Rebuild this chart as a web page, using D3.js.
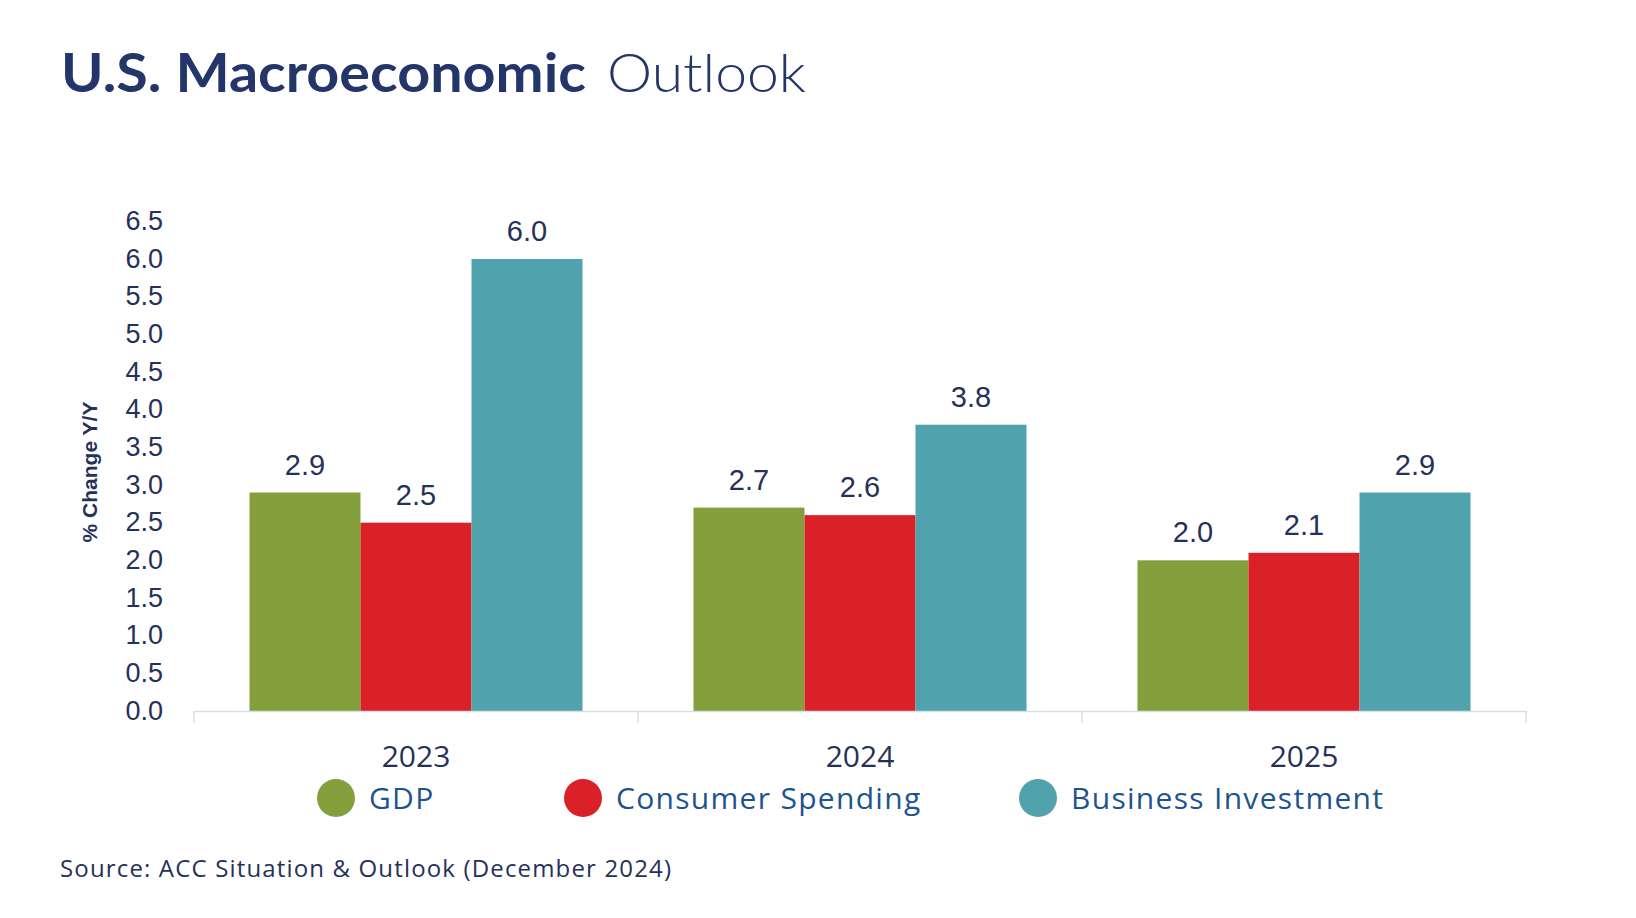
<!DOCTYPE html>
<html>
<head>
<meta charset="utf-8">
<script src="https://cdn.jsdelivr.net/npm/d3@7"></script>
<style>
  html, body { margin: 0; padding: 0; background: #ffffff; }
  svg { display: block; }
</style>
</head>
<body>
<svg id="chart" width="1636" height="918"></svg>
<script>
// ---- Data ----
const categories = ["2023", "2024", "2025"];
const seriesNames = ["GDP", "Consumer Spending", "Business Investment"];
const gdp = [2.9, 2.7, 2.0];
const consumerSpending = [2.5, 2.6, 2.1];
const businessInvestment = [6.0, 3.8, 2.9];
const yTicks = [0, 0.5, 1.0, 1.5, 2.0, 2.5, 3.0, 3.5, 4.0, 4.5, 5.0, 5.5, 6.0, 6.5];
const seriesColors = ["#84a03d", "#db2128", "#50a2ac"];

const seriesValues = [gdp, consumerSpending, businessInvestment];
const table = categories.map((c, i) => ({
  category: c,
  values: seriesNames.map((s, j) => ({ series: s, value: seriesValues[j][i], color: seriesColors[j] }))
}));

const svg = d3.select("#chart");
const navy = "#263159";
const legendBlue = "#1d548f";

// ---- Title ----
svg.append("text").attr("x", 61).attr("y", 92)
  .attr("fill", "#233569")
  .attr("font-family", "Lato, 'Open Sans', sans-serif").attr("font-weight", 700).attr("font-size", 54)
  .attr("textLength", 525).attr("lengthAdjust", "spacingAndGlyphs")
  .text("U.S. Macroeconomic");
svg.append("text").attr("x", 607).attr("y", 92)
  .attr("fill", "#233569")
  .attr("font-family", "Lato, 'Open Sans', sans-serif").attr("font-weight", 300).attr("font-size", 54)
  .attr("textLength", 199).attr("lengthAdjust", "spacingAndGlyphs")
  .text("Outlook");

// ---- Scales ----
const margin = { left: 194, right: 1526, top: 221.3, bottom: 711 };
const x0 = d3.scaleBand().domain(categories).range([margin.left, margin.right]).padding(0);
const x1 = d3.scaleBand().domain(seriesNames)
  .range([x0.bandwidth() * 0.125, x0.bandwidth() * 0.875]).padding(0);
const y = d3.scaleLinear().domain([0, 6.5]).range([margin.bottom, margin.top]);

// ---- Y axis (labels only) ----
const yAxis = d3.axisLeft(y).tickValues(yTicks).tickFormat(d3.format(".1f")).tickSize(0).tickPadding(0);
const yg = svg.append("g").attr("transform", `translate(163,0)`).call(yAxis);
yg.select(".domain").remove();
yg.selectAll("text")
  .attr("font-family", "'Liberation Sans', Arial, sans-serif")
  .attr("font-size", 27).attr("fill", navy).attr("dy", "0.3em");

// Y axis title
svg.append("text")
  .attr("transform", `translate(97,472) rotate(-90)`)
  .attr("text-anchor", "middle")
  .attr("font-family", "'Liberation Sans', Arial, sans-serif")
  .attr("font-weight", 700).attr("font-size", 21)
  .attr("fill", navy)
  .text("% Change Y/Y");

// ---- Bars ----
const groups = svg.append("g").selectAll("g").data(table).join("g")
  .attr("transform", d => `translate(${x0(d.category)},0)`);

groups.selectAll("rect").data(d => d.values).join("rect")
  .attr("x", d => x1(d.series))
  .attr("width", x1.bandwidth())
  .attr("y", d => y(d.value))
  .attr("height", d => y(0) - y(d.value))
  .attr("fill", d => d.color);

groups.selectAll("text.lbl").data(d => d.values).join("text")
  .attr("class", "lbl")
  .attr("x", d => x1(d.series) + x1.bandwidth() / 2)
  .attr("y", d => y(d.value) - 18)
  .attr("text-anchor", "middle")
  .attr("font-family", "'Liberation Sans', Arial, sans-serif")
  .attr("font-size", 29).attr("fill", navy)
  .text(d => d3.format(".1f")(d.value));

// ---- X axis ----
const xAxis = d3.axisBottom(x0).tickSize(0).tickPadding(0);
const xg = svg.append("g").attr("transform", `translate(0,${margin.bottom})`).call(xAxis);
xg.select(".domain").attr("stroke", "#d6e0e8").attr("stroke-width", 1.5);
xg.selectAll(".tick text")
  .attr("font-family", "'Open Sans', 'Noto Sans', sans-serif")
  .attr("font-size", 30).attr("fill", navy)
  .attr("y", 56).attr("dy", 0);
// category separator ticks
const boundaries = [margin.left].concat(categories.map(c => x0(c) + x0.bandwidth()));
xg.selectAll("line.sep").data(boundaries).join("line").attr("class", "sep")
  .attr("x1", d => d).attr("x2", d => d).attr("y1", 0).attr("y2", 12)
  .attr("stroke", "#d6e0e8").attr("stroke-width", 1.5);

// ---- Legend ----
const legendCx = [336, 583, 1038];
const legend = svg.append("g").selectAll("g").data(seriesNames).join("g")
  .attr("transform", (d, i) => `translate(${legendCx[i]},798)`);
legend.append("circle").attr("r", 19).attr("fill", (d, i) => seriesColors[i]);
legend.append("text")
  .attr("x", 33).attr("y", 11)
  .attr("font-family", "'Open Sans', 'Noto Sans', sans-serif")
  .attr("font-size", 30).attr("letter-spacing", 1.3).attr("fill", legendBlue)
  .text(d => d);

// ---- Source ----
svg.append("text").attr("x", 60).attr("y", 877)
  .attr("font-family", "'Open Sans', 'Noto Sans', sans-serif")
  .attr("font-size", 24).attr("fill", navy)
  .attr("textLength", 611).attr("lengthAdjust", "spacing")
  .text("Source: ACC Situation & Outlook (December 2024)");
</script>
</body>
</html>
